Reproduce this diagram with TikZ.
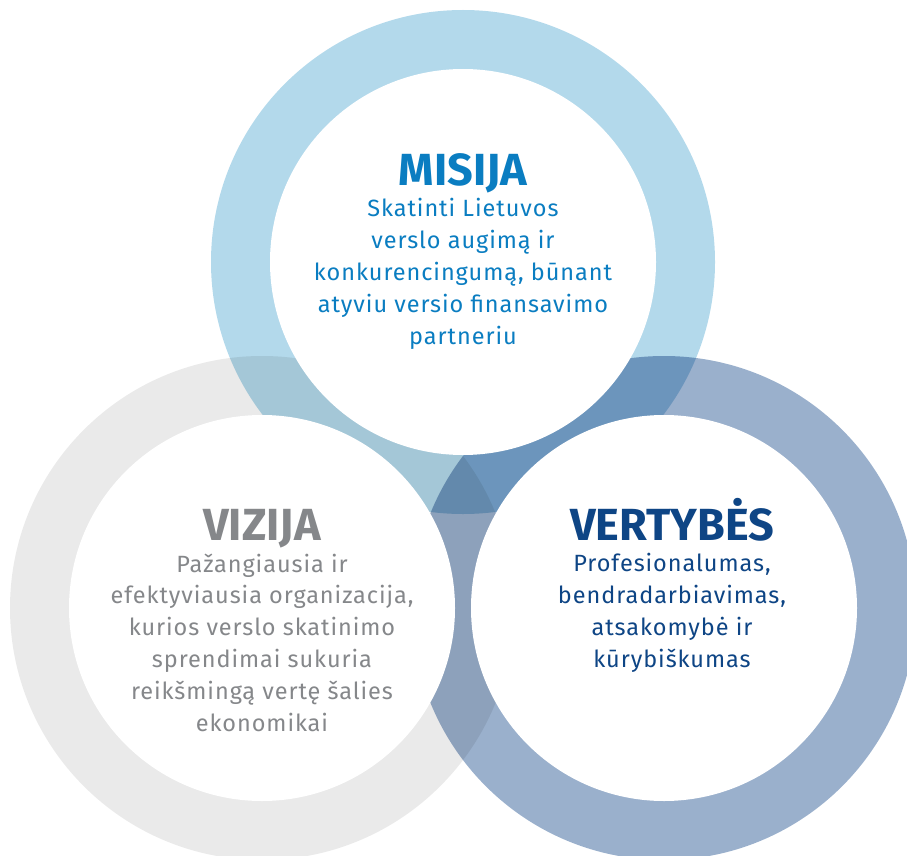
\documentclass[tikz,border=0pt]{standalone}
\usepackage{fontspec}
\setmainfont{Fira Sans}
\newfontfamily\spacedfont{Fira Sans}[LetterSpace=4]
\usepackage{tikz}

\definecolor{misring}{RGB}{179,217,235}
\definecolor{vizring}{RGB}{234,234,234}
\definecolor{verring}{RGB}{154,176,204}
\definecolor{misblue}{RGB}{10,125,193}
\definecolor{vizgrey}{RGB}{133,135,138}
\definecolor{verblue}{RGB}{14,69,133}

\tikzset{
  hole/.style={fill=white},
  headline/.style={font=\fontsize{45}{50}\selectfont\bfseries, anchor=base, inner sep=0pt},
  bodytext/.style={font=\spacedfont\fontsize{23.5}{31.8}\selectfont, align=center, anchor=base, inner sep=0pt},
}

\begin{document}
\begin{tikzpicture}[x=1pt,y=-1pt]
    \useasboundingbox (0,0) rectangle (907,856);
    \clip (0,0) rectangle (907,856);

    % Centres
    \coordinate (mis) at (463,262);
    \coordinate (viz) at (262,608);
    \coordinate (ver) at (664,608);

    % Rings
    \begin{scope}[blend mode=multiply]
        \fill[misring] (mis) circle (252pt);
        \fill[vizring] (viz) circle (252pt);
        \fill[verring] (ver) circle (252pt);
    \end{scope}
    \fill[hole] (mis) circle (193pt);
    \fill[hole] (viz) circle (193pt);
    \fill[hole] (ver) circle (193pt);

    % Misija (body sits on its last baseline)
    \node[headline, misblue] (misija) at (463,185) {MISIJA};
    \node[bodytext, misblue] (misijatxt) at (463,344) {Skatinti Lietuvos\\verslo augimą ir\\konkurencingumą, būnant\\atyviu versio finansavimo\\partneriu};

    % Vizija
    \node[headline, vizgrey] (vizija) at (262,540) {VIZIJA};
    \node[bodytext, vizgrey] (vizijatxt) at (262,731) {Pažangiausia ir\\efektyviausia organizacija,\\kurios verslo skatinimo\\sprendimai sukuria\\reikšmingą vertę šalies\\ekonomikai};

    % Vertybes
    \node[headline, verblue] (vertybes) at (672,540) {VERTYBĖS};
    \node[bodytext, verblue] (vertybestxt) at (672,667) {Profesionalumas,\\bendradarbiavimas,\\atsakomybė ir\\kūrybiškumas};
\end{tikzpicture}
\end{document}
